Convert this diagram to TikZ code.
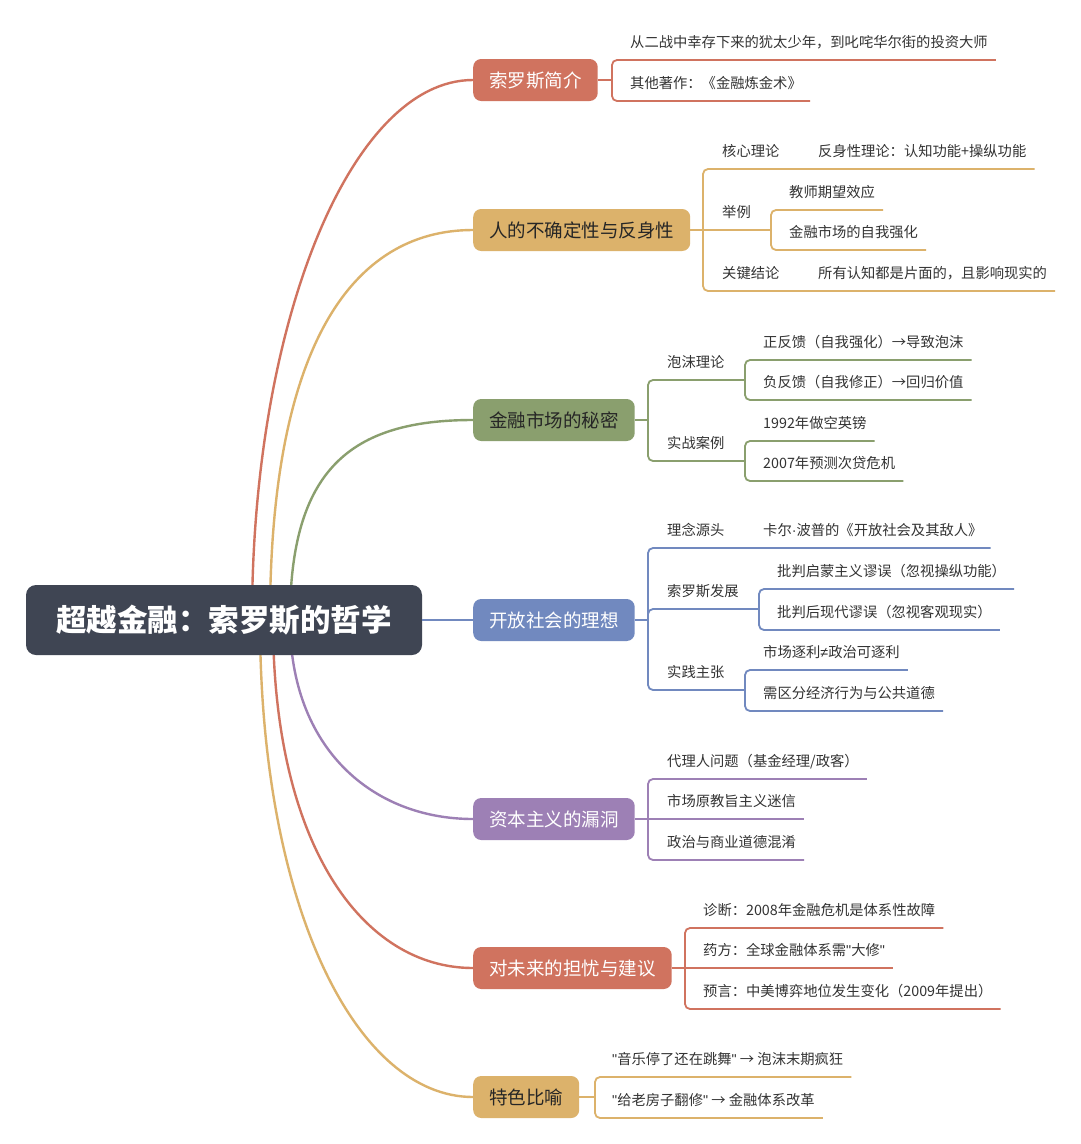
\documentclass[tikz,border=0pt]{standalone}
\usepackage{fontspec}
\setmainfont{Noto Sans CJK SC}
\newfontfamily\narrowfont{Liberation Sans}
\newcommand{\qt}{{\narrowfont\char34}}
\newcommand{\mdot}{{\narrowfont ·}}
\newcommand{\neqsym}{{\narrowfont ≠}}
\usetikzlibrary{calc}
\definecolor{cred}{HTML}{D0735F}
\definecolor{cyel}{HTML}{DCB26B}
\definecolor{cgrn}{HTML}{8A9F6E}
\definecolor{cblu}{HTML}{7189BF}
\definecolor{cpur}{HTML}{9D80B5}
\definecolor{croot}{HTML}{3F4553}
\definecolor{txt}{HTML}{333333}
\definecolor{dtxt}{HTML}{262626}
\begin{document}
\begin{tikzpicture}[x=1pt,y=-1pt,
  branch/.style={rounded corners=8pt, minimum height=42pt, inner xsep=16pt, inner ysep=0pt,
    anchor=west, font=\fontsize{18.5}{22}\selectfont, text height=16pt, text depth=2pt},
  rootbox/.style={rounded corners=10pt, fill=croot, minimum width=396pt, minimum height=70pt,
    inner sep=0pt, text=white, font=\fontsize{30.5}{36}\selectfont\bfseries, text height=25pt, text depth=2.2pt},
  leaf/.style={anchor=south west, inner sep=0pt, text height=11pt, text depth=12pt,
    font=\fontsize{14.3}{17}\selectfont, text=txt},
  ln/.style={line width=1.8pt, rounded corners=5pt},
  cv/.style={line width=2.4pt}]
\useasboundingbox[fill=white] (0,0) rectangle (1080,1144);

% ---------- branch boxes ----------
\node[branch, fill=cred, text=white] (b1) at (473,80) {索罗斯简介};
\node[branch, fill=cyel, text=dtxt] (b2) at (473,230) {人的不确定性与反身性};
\node[branch, fill=cgrn, text=dtxt] (b3) at (473,420) {金融市场的秘密};
\node[branch, fill=cblu, text=white] (b4) at (473,620) {开放社会的理想};
\node[branch, fill=cpur, text=white] (b5) at (473,819) {资本主义的漏洞};
\node[branch, fill=cred, text=white] (b6) at (473,968) {对未来的担忧与建议};
\node[branch, fill=cyel, text=dtxt] (b7) at (473,1097) {特色比喻};

% ---------- curves from root ----------
\coordinate (s1) at (252,620);
\coordinate (s2) at (270,620);
\coordinate (s3) at (290,620);
\coordinate (s5) at (290,620);
\coordinate (s6) at (273,620);
\coordinate (s7) at (260,620);
\draw[cv, cred] (s1) .. controls (252,322) and (351,80) .. (b1.west);
\draw[cv, cyel] (s2) .. controls (270,348) and (351,230) .. (b2.west);
\draw[cv, cgrn] (s3) .. controls (290,470) and (350,420) .. (b3.west);
\draw[cv, cpur] (s5) .. controls (290,749) and (373,819) .. (b5.west);
\draw[cv, cred] (s6) .. controls (273,846) and (363,968) .. (b6.west);
\draw[cv, cyel] (s7) .. controls (260,906) and (356,1097) .. (b7.west);

% ---------- root ----------
\node[rootbox] (root) at (224,620) {超越金融：索罗斯的哲学};
\draw[cv, cblu] (root.east) -- (b4.west);

% ---------- branch 1 ----------
\coordinate (k1) at (612,80);
\node[leaf] (b1a) at (630,60) {从二战中幸存下来的犹太少年，到叱咤华尔街的投资大师};
\node[leaf] (b1b) at (630,101) {其他著作：《金融炼金术》};
\draw[ln, cred] (b1.east) -- (k1);
\draw[ln, cred] (k1) |- ($(b1a.south east)+(8,0)$);
\draw[ln, cred] (k1) |- ($(b1b.south east)+(8,0)$);

% ---------- branch 2 ----------
\coordinate (k2) at (703,230);
\node[leaf] (b2a) at (722,169) {核心理论};
\node[leaf] (b2a1) at (818,169) {反身性理论：认知功能+操纵功能};
\node[leaf] (b2b) at (722,230) {举例};
\coordinate (k2b) at (771,230);
\node[leaf] (b2b1) at (789,210) {教师期望效应};
\node[leaf] (b2b2) at (789,250) {金融市场的自我强化};
\node[leaf] (b2c) at (722,291) {关键结论};
\node[leaf] (b2c1) at (818,291) {所有认知都是片面的，且影响现实的};
\draw[ln, cyel] (b2.east) -- (k2) -- (k2b);
\draw[ln, cyel] (k2) |- ($(b2a1.south east)+(8,0)$);
\draw[ln, cyel] (k2) |- ($(b2c1.south east)+(8,0)$);
\draw[ln, cyel] (k2b) |- ($(b2b1.south east)+(8,0)$);
\draw[ln, cyel] (k2b) |- ($(b2b2.south east)+(8,0)$);

% ---------- branch 3 ----------
\coordinate (k3) at (648,420);
\node[leaf] (b3a) at (667,380) {泡沫理论};
\coordinate (k3a) at (745,380);
\node[leaf] (b3a1) at (763,360) {正反馈（自我强化）→导致泡沫};
\node[leaf] (b3a2) at (763,400) {负反馈（自我修正）→回归价值};
\node[leaf] (b3b) at (667,461) {实战案例};
\coordinate (k3b) at (745,461);
\node[leaf] (b3b1) at (763,441) {1992年做空英镑};
\node[leaf] (b3b2) at (763,481) {2007年预测次贷危机};
\draw[ln, cgrn] (b3.east) -- (k3);
\draw[ln, cgrn] (k3) |- (k3a);
\draw[ln, cgrn] (k3) |- (k3b);
\draw[ln, cgrn] (k3a) |- ($(b3a1.south east)+(8,0)$);
\draw[ln, cgrn] (k3a) |- ($(b3a2.south east)+(8,0)$);
\draw[ln, cgrn] (k3b) |- ($(b3b1.south east)+(8,0)$);
\draw[ln, cgrn] (k3b) |- ($(b3b2.south east)+(8,0)$);

% ---------- branch 4 ----------
\coordinate (k4) at (648,620);
\node[leaf] (b4a) at (667,548) {理念源头};
\node[leaf] (b4a1) at (763,548) {卡尔\mdot 波普的《开放社会及其敌人》};
\node[leaf] (b4b) at (667,609) {索罗斯发展};
\coordinate (k4b) at (759,609);
\node[leaf] (b4b1) at (777,589) {批判启蒙主义谬误（忽视操纵功能）};
\node[leaf] (b4b2) at (777,630) {批判后现代谬误（忽视客观现实）};
\node[leaf] (b4c) at (667,690) {实践主张};
\coordinate (k4c) at (745,690);
\node[leaf] (b4c1) at (763,670) {市场逐利\neqsym 政治可逐利};
\node[leaf] (b4c2) at (763,711) {需区分经济行为与公共道德};
\draw[ln, cblu] (b4.east) -- (k4);
\draw[ln, cblu] (k4) |- ($(b4a1.south east)+(8,0)$);
\draw[ln, cblu] (k4) |- (k4b);
\draw[ln, cblu] (k4) |- (k4c);
\draw[ln, cblu] (k4b) |- ($(b4b1.south east)+(8,0)$);
\draw[ln, cblu] (k4b) |- ($(b4b2.south east)+(8,0)$);
\draw[ln, cblu] (k4c) |- ($(b4c1.south east)+(8,0)$);
\draw[ln, cblu] (k4c) |- ($(b4c2.south east)+(8,0)$);

% ---------- branch 5 ----------
\coordinate (k5) at (648,819);
\node[leaf] (b5a) at (667,779) {代理人问题（基金经理/政客）};
\node[leaf] (b5b) at (667,819) {市场原教旨主义迷信};
\node[leaf] (b5c) at (667,860) {政治与商业道德混淆};
\draw[ln, cpur] (b5.east) -- (k5) -- ($(b5b.south east)+(8,0)$);
\draw[ln, cpur] (k5) |- ($(b5a.south east)+(8,0)$);
\draw[ln, cpur] (k5) |- ($(b5c.south east)+(8,0)$);

% ---------- branch 6 ----------
\coordinate (k6) at (685,968);
\node[leaf] (b6a) at (703,928) {诊断：2008年金融危机是体系性故障};
\node[leaf] (b6b) at (703,968) {药方：全球金融体系需\qt 大修\qt};
\node[leaf] (b6c) at (703,1009) {预言：中美博弈地位发生变化（2009年提出）};
\draw[ln, cred] (b6.east) -- (k6) -- ($(b6b.south east)+(8,0)$);
\draw[ln, cred] (k6) |- ($(b6a.south east)+(8,0)$);
\draw[ln, cred] (k6) |- ($(b6c.south east)+(8,0)$);

% ---------- branch 7 ----------
\coordinate (k7) at (595,1097);
\node[leaf] (b7a) at (612,1077) {\qt 音乐停了还在跳舞\qt{} → 泡沫末期疯狂};
\node[leaf] (b7b) at (612,1118) {\qt 给老房子翻修\qt{} → 金融体系改革};
\draw[ln, cyel] (b7.east) -- (k7);
\draw[ln, cyel] (k7) |- ($(b7a.south east)+(8,0)$);
\draw[ln, cyel] (k7) |- ($(b7b.south east)+(8,0)$);
\end{tikzpicture}
\end{document}
